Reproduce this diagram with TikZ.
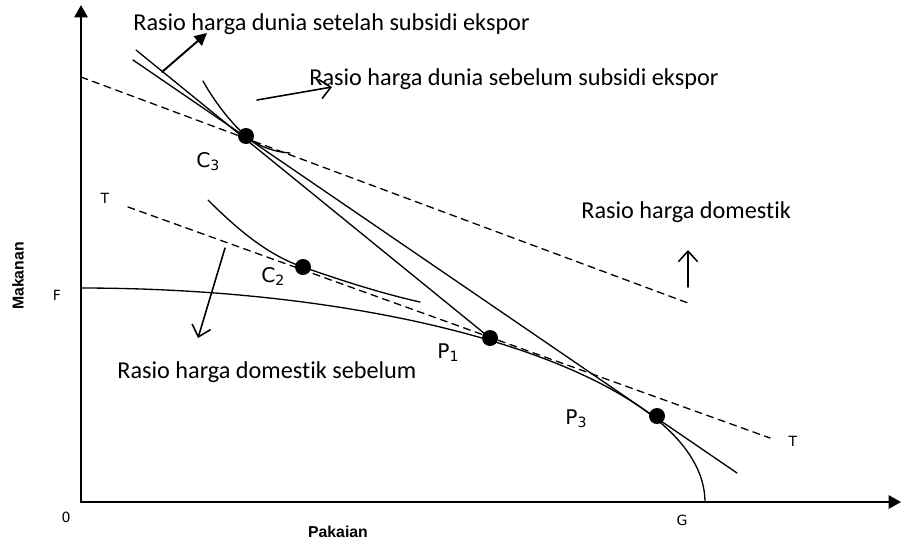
\documentclass[tikz,border=0pt]{standalone}
\usepackage{fontspec}
\setmainfont{Carlito}[Ligatures={NoCommon}]
\newfontfamily\pointfont{DejaVu Sans}
\newfontfamily\axisfont{Liberation Sans}
\usetikzlibrary{arrows.meta}

\begin{document}
\begin{tikzpicture}[x=0.02cm,y=-0.02cm,font=\fontsize{13.8}{16}\selectfont,line cap=round,line join=round]
  \tikzset{axis/.style={line width=1.2pt,-{Triangle[length=7pt,width=7.5pt]}},
    curve/.style={line width=0.75pt},
    ratio/.style={line width=0.75pt,dash pattern=on 4pt off 3pt},
    pointer/.style={line width=0.9pt,-{Straight Barb[length=6pt,width=11pt]}},
    dot/.style={circle,fill=black,inner sep=0pt,minimum size=0.32cm},
    ptlabel/.style={font=\pointfont\fontsize{11.5}{13}\selectfont,anchor=base west,inner sep=0pt},
    tick/.style={font=\pointfont\fontsize{8}{9}\selectfont,anchor=north,inner sep=0pt},
    axislabel/.style={font=\axisfont\bfseries\fontsize{9}{10}\selectfont,inner sep=0pt},
    note/.style={anchor=base west,inner sep=0pt}}
  \useasboundingbox (0,0) rectangle (902,542);
  % axes
  \coordinate (O) at (81,502);
  \coordinate (ytop) at (81,5);
  \coordinate (xend) at (901,502);
  \draw[axis] (O) -- (ytop);
  \draw[axis] (O) -- (xend);
  \node[tick] (zero) at (66,512) {0};
  \node[tick] (F) at (57,290) {F};
  \node[tick] (G) at (682,515) {G};
  \node[tick] (T1) at (105,193) {T};
  \node[tick] (T2) at (793,436) {T};
  \node[axislabel,rotate=90] (food) at (18,276) {Makanan};
  \node[axislabel,anchor=north] (cloth) at (338,526) {Pakaian};
  % production possibility frontier
  \draw[curve] plot[domain=0:90,samples=80,smooth] ({81+624*sin(\x)},{502-214*cos(\x)});
  % points
  \node[dot] (C3) at (246,136) {};
  \node[dot] (C2) at (303,267) {};
  \node[dot] (P1) at (490,338) {};
  \node[dot] (P3) at (657,416) {};
  \node[ptlabel] (C3lbl) at (196,167) {C\textsubscript{3}};
  \node[ptlabel] (C2lbl) at (261,282) {C\textsubscript{2}};
  \node[ptlabel] (P1lbl) at (437,358) {P\textsubscript{1}};
  \node[ptlabel] (P3lbl) at (565,424) {P\textsubscript{3}};
  % price lines
  \coordinate (d1) at (81,77);
  \coordinate (d2) at (688,303);
  \coordinate (e1) at (128,207);
  \coordinate (e2) at (770,438);
  \coordinate (a1) at (136,50);
  \coordinate (b1) at (133,60);
  \coordinate (b2) at (737,473);
  \draw[ratio] (d1) -- (d2);
  \draw[ratio] (e1) -- (e2);
  \draw[curve] (a1) -- (P1.center);
  \draw[curve] (b1) -- (b2);
  % indifference curves
  \draw[curve] (203,81) .. controls (214,101) and (231,123) .. (C3.center) .. controls (259,147) and (275,152) .. (290,153);
  \draw[curve] (208,200) .. controls (240,232) and (270,256) .. (C2.center) .. controls (340,280) and (380,293) .. (420,302);
  % labels and pointers
  \node[note] (after) at (133,30) {Rasio harga dunia setelah subsidi ekspor};
  \node[note] (before) at (309,85) {Rasio harga dunia sebelum subsidi ekspor};
  \node[note] (dom) at (581,218) {Rasio harga domestik};
  \node[note] (dombefore) at (117,378) {Rasio harga domestik sebelum};
  \coordinate (p1a) at (162,72);
  \coordinate (p1b) at (207,33);
  \coordinate (p2a) at (257,100);
  \coordinate (p2b) at (332,87);
  \coordinate (p3a) at (225,248);
  \coordinate (p3b) at (198,338);
  \coordinate (p4a) at (688,287);
  \coordinate (p4b) at (688,250);
  \draw[line width=1.1pt,-{Triangle[length=7pt,width=7pt]}] (p1a) -- (p1b);
  \draw[pointer] (p2a) -- (p2b);
  \draw[pointer] (p3a) -- (p3b);
  \draw[pointer] (p4a) -- (p4b);
\end{tikzpicture}
\end{document}
